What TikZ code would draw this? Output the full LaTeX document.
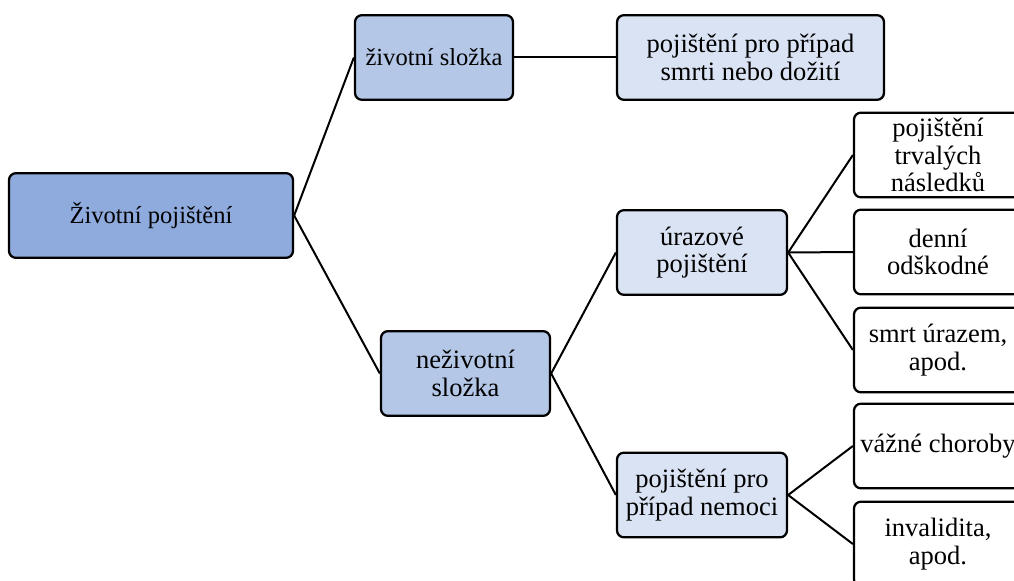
\documentclass[tikz,border=0pt]{standalone}
\usepackage{fontspec}
\setmainfont{Liberation Serif}
\usepackage{xcolor}
\usetikzlibrary{positioning,calc}
\definecolor{rootblue}{HTML}{8FAADC}
\definecolor{midblue}{HTML}{B4C7E7}
\definecolor{paleblue}{HTML}{DAE3F3}
\tikzset{
  box/.style={draw=black, line width=0.85pt, rounded corners=2.6pt, align=center,
    minimum height=31.75pt, inner sep=0pt, font=\fontsize{9.95}{10.25}\selectfont},
  lvlzero/.style={box, fill=rootblue, font=\fontsize{9.2}{10.25}\selectfont},
  lvlone/.style={box, fill=midblue},
  lvltwo/.style={box, fill=paleblue},
  leaf/.style={box, fill=white, minimum width=63pt},
  link/.style={line width=0.75pt}
}

\begin{document}
\begin{tikzpicture}[x=0.375pt, y=-0.375pt]
  \useasboundingbox (0,0) rectangle (1014,581);
  \node[lvlzero, minimum width=106.5pt] (A) at (151,215.5) {Životní pojištění};
  \node[lvlone, minimum width=59.25pt, font=\fontsize{9.2}{10.25}\selectfont] (B) at (434,57.5) {životní složka};
  \node[lvltwo, minimum width=100.1pt] (C) at (750.5,57.5) {pojištění pro případ\\smrti nebo dožití};
  \node[lvlone, minimum width=63.4pt] (D) at (465.5,373.5) {neživotní\\složka};
  \node[lvltwo, minimum width=63.75pt] (E) at (702,252.5) {úrazové\\pojištění};
  \node[lvltwo, minimum width=63.75pt] (F) at (702,495) {pojištění pro\\případ nemoci};
  \node[leaf] (G) at (938,155) {pojištění\\trvalých\\následků};
  \node[leaf] (H) at (938,252) {denní\\odškodné};
  \node[leaf] (I) at (938,350) {smrt úrazem,\\apod.};
  \node[leaf] (J) at (938,446) {vážné choroby};
  \node[leaf] (K) at (938,544) {invalidita,\\apod.};
  \draw[link] (A.east) -- (B.west);
  \draw[link] (A.east) -- (D.west);
  \draw[link] (B.east) -- (C.west);
  \draw[link] (D.east) -- (E.west);
  \draw[link] (D.east) -- (F.west);
  \draw[link] (E.east) -- (G.west);
  \draw[link] (E.east) -- (H.west);
  \draw[link] (E.east) -- (I.west);
  \draw[link] (F.east) -- (J.west);
  \draw[link] (F.east) -- (K.west);
\end{tikzpicture}
\end{document}
